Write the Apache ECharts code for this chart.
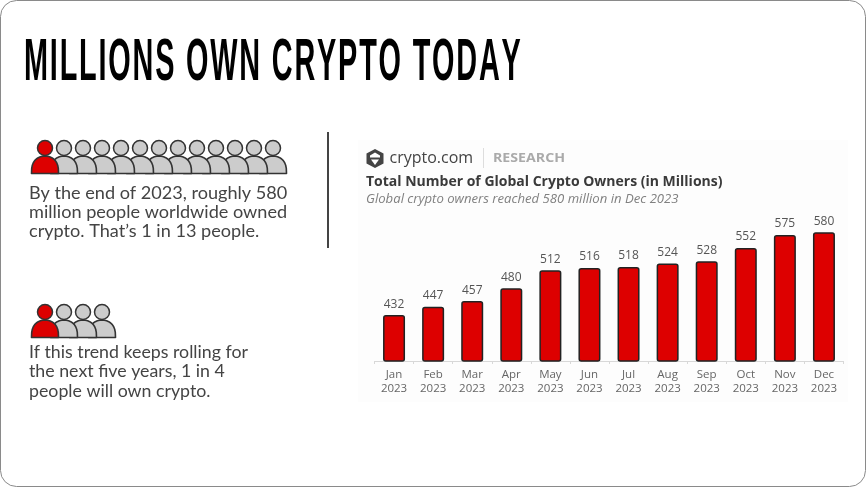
<!DOCTYPE html>
<html>
<head>
<meta charset="utf-8">
<style>html,body{margin:0;padding:0;background:#fff}#main{width:866px;height:487px}</style>
<script src="https://cdn.jsdelivr.net/npm/echarts@6/dist/echarts.min.js"></script>
</head>
<body>
<div id="main"></div>
<script>
var months = ['Jan', 'Feb', 'Mar', 'Apr', 'May', 'Jun', 'Jul', 'Aug', 'Sep', 'Oct', 'Nov', 'Dec'];
var year = '2023';
var owners = [432, 447, 457, 480, 512, 516, 518, 524, 528, 552, 575, 580];
var peopleToday = 13;
var peopleFuture = 4;
var heading = 'MILLIONS OWN CRYPTO TODAY';
var textToday = ['By the end of 2023, roughly 580', 'million people worldwide owned', 'crypto. That\u2019s 1 in 13 people.'];
var textFuture = ['If this trend keeps rolling for', 'the next five years, 1 in 4', 'people will own crypto.'];

var chart = echarts.init(document.getElementById('main'));

function label(x, y, text, font, color, extra) {
    var el = {
        type: 'text', x: x, y: y, z: 10,
        style: { text: text, font: font, fill: color, textVerticalAlign: 'middle' }
    };
    if (extra) { for (var k in extra) { el[k] = extra[k]; } }
    return el;
}

// no condensed font here: squeeze each letter and open up the gaps to fill the width
function headingLetters(text, x, y, width, squeeze) {
    var font = 'bold 60px "Liberation Sans"';
    var ctx = document.createElement('canvas').getContext('2d');
    ctx.font = font;
    var total = ctx.measureText(text).width * squeeze;
    var gap = (width - total) / (text.length - 1);
    var out = [];
    var pos = x;
    for (var i = 0; i < text.length; i++) {
        if (text[i] !== ' ') {
            out.push(label(pos, y, text[i], font, '#000', { scaleX: squeeze }));
        }
        pos += ctx.measureText(text[i]).width * squeeze + gap;
    }
    return out;
}

// shoulders: flat bottom, domed top
function bodyPoints(cx, bottom) {
    var pts = [];
    for (var a = 0; a <= 180; a += 10) {
        var r = a * Math.PI / 180;
        pts.push([cx + 13.5 * Math.cos(r), bottom - 1 - 17.5 * Math.pow(Math.sin(r), 0.7)]);
    }
    return pts;
}

// one row of little people, drawn right to left so each one covers the next one's shoulder
function people(count, headY) {
    var out = [];
    for (var i = count - 1; i >= 0; i--) {
        var cx = 45 + i * 19;
        var fill = i === 0 ? '#dd0000' : '#cccccc';
        var z = 5 + (count - i) * 0.01;
        out.push({
            type: 'polygon', z: z,
            shape: { points: bodyPoints(cx, headY + 26.5) },
            style: { fill: fill, stroke: '#333', lineWidth: 1.6, lineJoin: 'round' }
        });
        out.push({
            type: 'circle', z: z,
            shape: { cx: cx, cy: headY, r: 7.5 },
            style: { fill: fill, stroke: '#333', lineWidth: 1.5 }
        });
    }
    return out;
}

var graphics = [
    { type: 'rect', z: 0, shape: { x: 0.5, y: 0.5, width: 865, height: 486, r: 16 }, style: { fill: '#fff', stroke: '#8a8a8a', lineWidth: 1 } },
    { type: 'rect', z: 1, shape: { x: 358, y: 140, width: 490, height: 262 }, style: { fill: '#fdfdfd' } },
    { type: 'line', z: 2, shape: { x1: 328, y1: 132, x2: 328, y2: 248 }, style: { stroke: '#444', lineWidth: 2 } },
    // logo
    { type: 'polygon', z: 5, shape: { points: [[375, 149], [383.5, 153.5], [383.5, 163.5], [375, 168], [366.5, 163.5], [366.5, 153.5]] }, style: { fill: '#444' } },
    { type: 'polygon', z: 6, shape: { points: [[375, 152.5], [370, 155.5], [370, 157.5], [380, 157.5], [380, 155.5]] }, style: { fill: '#fff' } },
    { type: 'polygon', z: 6, shape: { points: [[371, 159.5], [375, 165], [379, 159.5]] }, style: { fill: '#fff' } },
    label(389.5, 158, 'crypto.com', '500 16px "Open Sans"', '#444'),
    { type: 'line', z: 5, shape: { x1: 483.5, y1: 148, x2: 483.5, y2: 168 }, style: { stroke: '#ddd', lineWidth: 1 } },
    label(493, 158.5, 'RESEARCH', 'bold 12px "Open Sans"', '#aaa', { scaleX: 1.18 }),
    label(366, 182, 'Total Number of Global Crypto Owners (in Millions)', 'bold 14px "Open Sans"', '#3a3a3a'),
    label(366, 199.5, 'Global crypto owners reached 580 million in Dec 2023', 'italic 12.5px "Open Sans"', '#808080', { scaleX: 1.05 })
];
graphics = graphics.concat(headingLetters(heading, 24, 63, 492, 0.48), people(peopleToday, 148), people(peopleFuture, 312));
textToday.forEach(function (t, i) {
    graphics.push(label(29, 194 + i * 19, t, '17px Lato', '#444', { scaleX: 1.065 }));
});
textFuture.forEach(function (t, i) {
    graphics.push(label(29, 352.5 + i * 19.5, t, '17px Lato', '#444', { scaleX: 1.045 }));
});

var option = {
    animation: false,
    backgroundColor: '#fff',
    graphic: { elements: graphics },
    grid: { left: 374.5, width: 469, top: 221, height: 140, containLabel: false },
    xAxis: {
        type: 'category',
        z: 6,
        data: months.map(function (m) { return m + '\n' + year; }),
        axisLine: { onZero: false, lineStyle: { color: '#d8d8d8', width: 1 } },
        axisTick: { show: true, length: 3, lineStyle: { color: '#d8d8d8' } },
        axisLabel: { color: '#666', fontSize: 11.5, lineHeight: 14.5, fontFamily: '"Open Sans"', margin: 6, interval: 0 }
    },
    yAxis: { type: 'value', min: 350, max: 600, show: false },
    series: [{
        name: 'Global crypto owners',
        type: 'bar',
        z: 7,
        data: owners,
        barWidth: 22,
        itemStyle: { color: '#dd0000', borderColor: '#222', borderWidth: 1.5, borderRadius: 2 },
        label: { show: true, position: 'top', distance: 5, color: '#555', fontSize: 12, fontFamily: '"Open Sans"' }
    }]
};
chart.setOption(option);
</script>
</body>
</html>
